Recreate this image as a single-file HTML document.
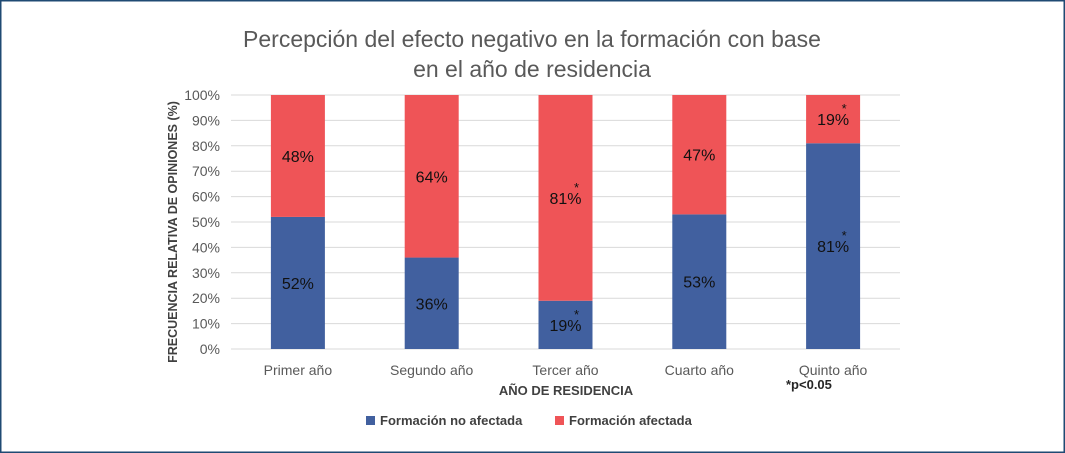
<!DOCTYPE html>
<html><head><meta charset="utf-8"><style>
html,body{margin:0;padding:0;background:#fff}
svg{display:block;font-family:"Liberation Sans",sans-serif}
</style></head><body>
<svg width="1065" height="453" viewBox="0 0 1065 453">
<rect x="0.75" y="0.75" width="1063.5" height="451.5" fill="#fff" stroke="#1f4a73" stroke-width="1.5"/>
<text x="532" y="47" text-anchor="middle" font-size="23" fill="#595959">Percepción del efecto negativo en la formación con base</text>
<text x="532" y="77" text-anchor="middle" font-size="23" fill="#595959">en el año de residencia</text>
<g id="grid"></g>
<g id="bars"></g>
<g id="xlabels"></g>
<text transform="translate(177,232) rotate(-90)" text-anchor="middle" font-size="12.5" font-weight="bold" fill="#404040">FRECUENCIA RELATIVA DE OPINIONES (%)</text>
<text x="566" y="395" text-anchor="middle" font-size="13" font-weight="bold" fill="#404040">AÑO DE RESIDENCIA</text>
<text x="786" y="389" font-size="13" font-weight="bold" fill="#262626">*p&lt;0.05</text>
<g>
<rect x="366" y="416" width="9" height="9" fill="#41609f"/>
<text x="380" y="425" font-size="13" font-weight="bold" fill="#404040">Formación no afectada</text>
<rect x="555" y="416" width="9" height="9" fill="#ef5457"/>
<text x="569" y="425" font-size="13" font-weight="bold" fill="#404040">Formación afectada</text>
</g>
</svg>
<script>
const categories=["Primer año","Segundo año","Tercer año","Cuarto año","Quinto año"];
const noAfectada=[52,36,19,53,81];
const afectada=[48,64,81,47,19];
const sigNo=[false,false,true,false,true];
const sigAf=[false,false,true,false,true];
const yTicks=[0,10,20,30,40,50,60,70,80,90,100];
const NS="http://www.w3.org/2000/svg";
const x0=231,x1=900,yB=349,yT=95;
const y=v=>yB-(v/100)*(yB-yT);
const band=(x1-x0)/categories.length;
const xc=i=>x0+band*(i+0.5);
const bw=54;
function mk(t,a,p){const e=document.createElementNS(NS,t);for(const k in a)e.setAttribute(k,a[k]);p.appendChild(e);return e;}
const g=document.getElementById('grid');
yTicks.forEach(v=>{
 const l=mk('line',{x1:x0,x2:x1,y1:y(v),y2:y(v),stroke:'#d9d9d9','stroke-width':1},g);
 
 
 const t=mk('text',{x:220,y:y(v)+5,'text-anchor':'end','font-size':14,fill:'#595959'},g);
 t.textContent=v+'%';
 
 
});
const b=document.getElementById('bars');
categories.forEach((c,i)=>{
 const cx=xc(i);
 const r1=mk('rect',{x:cx-bw/2,y:y(noAfectada[i]),width:bw,height:yB-y(noAfectada[i]),fill:'#41609f'},b);
 
 
 const top=noAfectada[i]+afectada[i];
 const r2=mk('rect',{x:cx-bw/2,y:y(top),width:bw,height:y(noAfectada[i])-y(top),fill:'#ef5457'},b);
 
 
 const m1=(y(0)+y(noAfectada[i]))/2;
 const t1=mk('text',{x:cx,y:m1+6,'text-anchor':'middle','font-size':16,fill:'#111'},b);
 t1.textContent=noAfectada[i]+'%';
 
 
 if(sigNo[i]){const s=mk('text',{x:cx+11,y:m1-6,'text-anchor':'middle','font-size':13,fill:'#111'},b);s.textContent='*';}
 const m2=(y(noAfectada[i])+y(top))/2;
 const t2=mk('text',{x:cx,y:m2+6,'text-anchor':'middle','font-size':16,fill:'#111'},b);
 t2.textContent=afectada[i]+'%';
 
 
 if(sigAf[i]){const s=mk('text',{x:cx+11,y:m2-6,'text-anchor':'middle','font-size':13,fill:'#111'},b);s.textContent='*';}
 const xl=mk('text',{x:cx,y:375,'text-anchor':'middle','font-size':14,fill:'#595959'},document.getElementById('xlabels'));
 xl.textContent=c;
 
 
});
</script>
</body></html>
